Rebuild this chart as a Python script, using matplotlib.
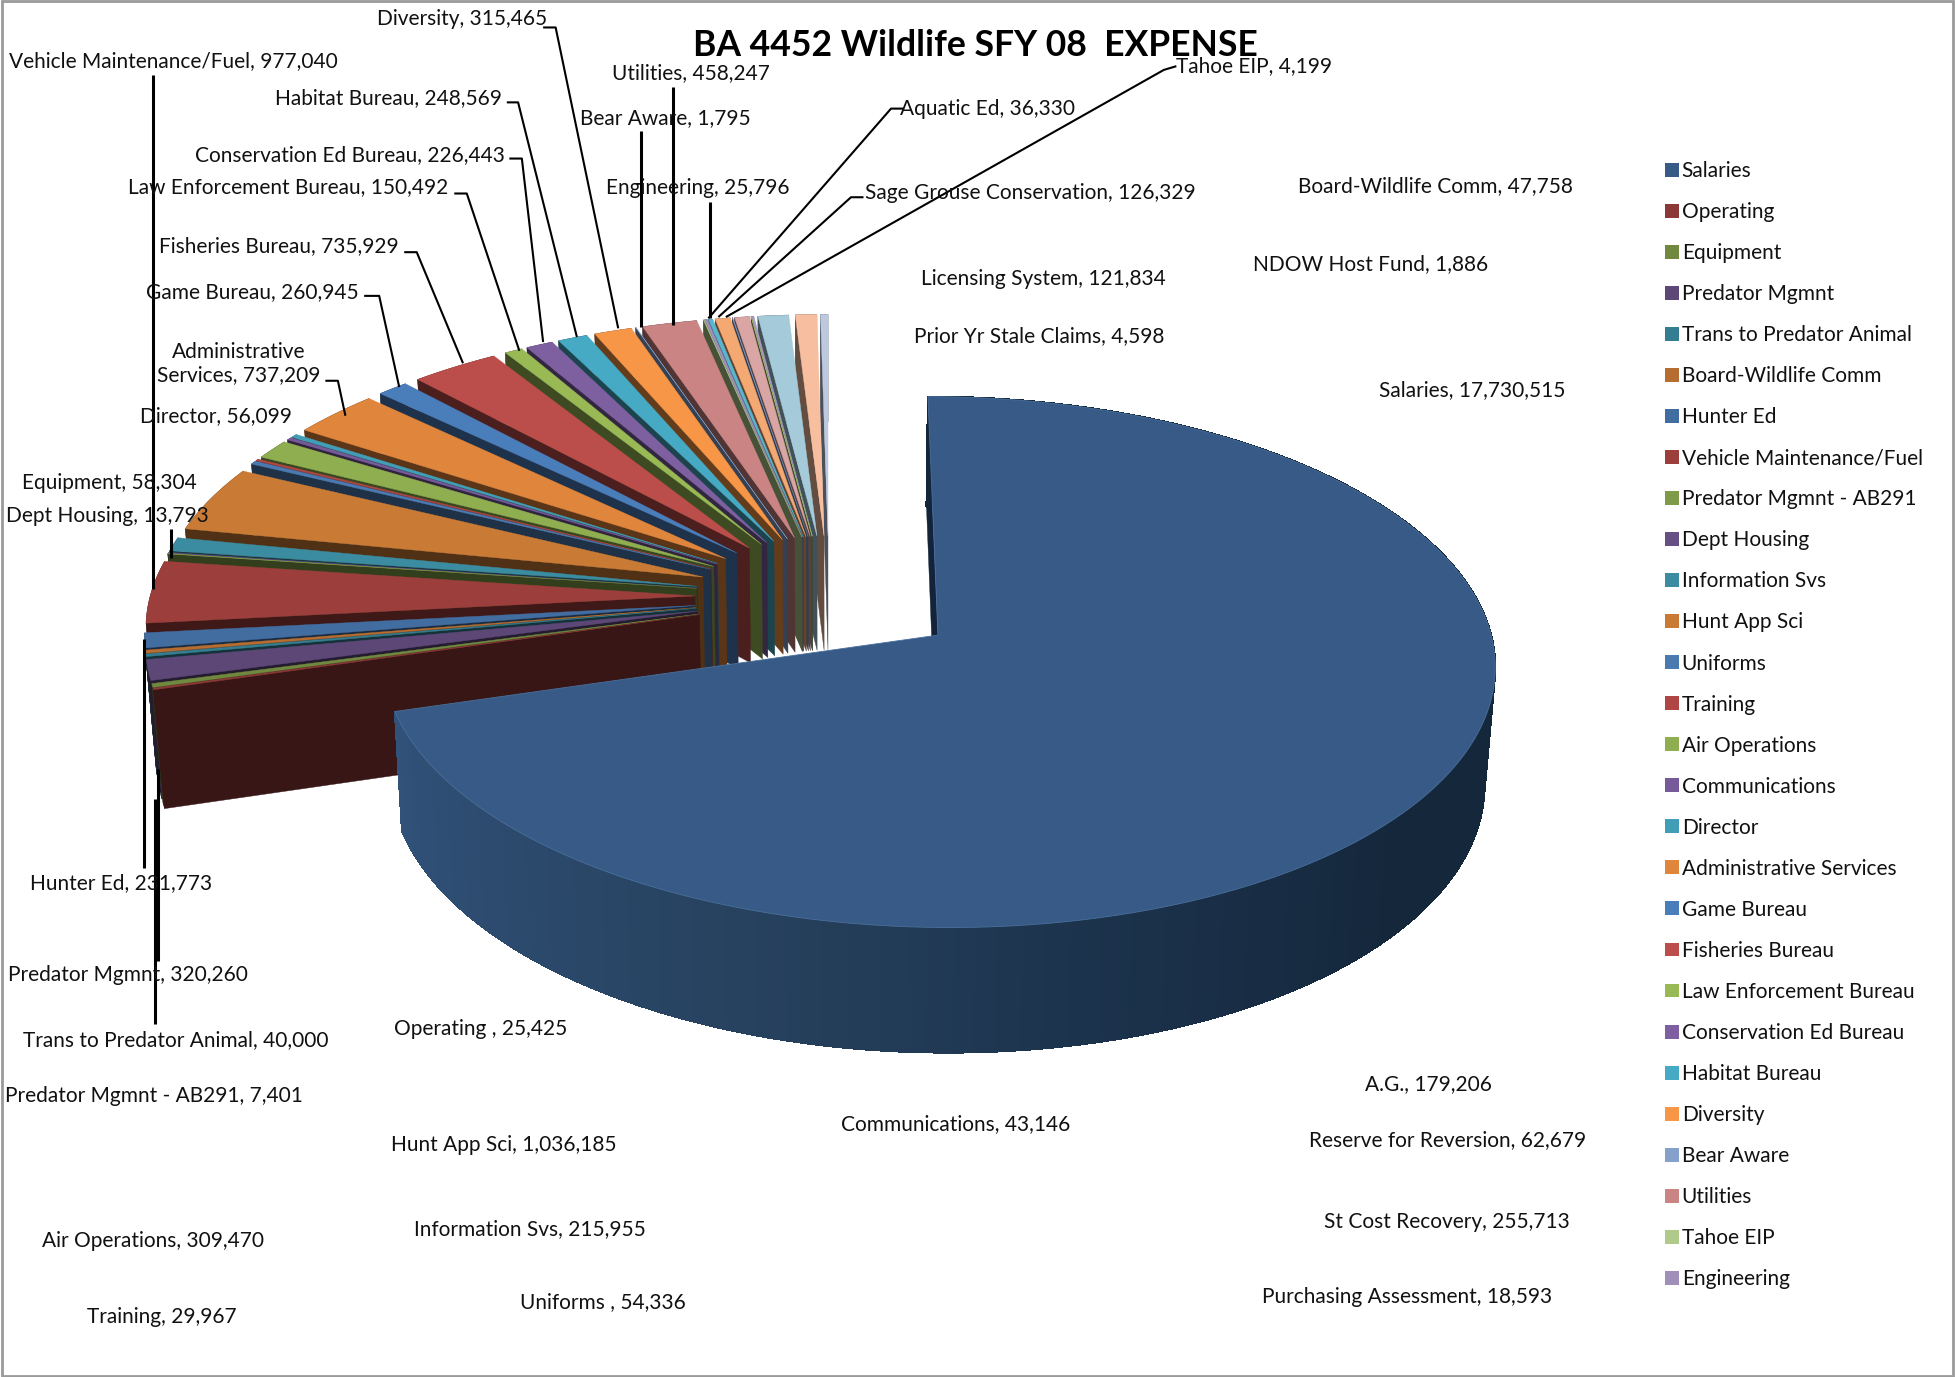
import numpy as np
from matplotlib import pyplot as plt
from matplotlib.patches import Patch, Polygon, Rectangle
from matplotlib.colors import to_rgb

plt.rcParams['font.family'] = ['Lato', 'DejaVu Sans']

names = ['Salaries', 'Operating', 'Equipment', 'Predator Mgmnt', 'Trans to Predator Animal',
         'Board-Wildlife Comm', 'Hunter Ed', 'Vehicle Maintenance/Fuel', 'Predator Mgmnt - AB291',
         'Dept Housing', 'Information Svs', 'Hunt App Sci', 'Uniforms', 'Training', 'Air Operations',
         'Communications', 'Director', 'Administrative Services', 'Game Bureau', 'Fisheries Bureau',
         'Law Enforcement Bureau', 'Conservation Ed Bureau', 'Habitat Bureau', 'Diversity', 'Bear Aware',
         'Utilities', 'Tahoe EIP', 'Engineering', 'Aquatic Ed', 'Sage Grouse Conservation',
         'Prior Yr Stale Claims', 'Licensing System', 'NDOW Host Fund', 'Purchasing Assessment',
         'St Cost Recovery', 'A.G.', 'Reserve for Reversion']
values = [17730515, 25425, 58304, 320260, 40000, 47758, 231773, 977040, 7401, 13793, 215955, 1036185,
          54336, 29967, 309470, 43146, 56099, 737209, 260945, 735929, 150492, 226443, 248569, 315465,
          1795, 458247, 4199, 25796, 36330, 126329, 4598, 121834, 1886, 18593, 255713, 179206, 62679]
colors = ['#375b86', '#8c3836', '#71893f', '#5c4776', '#357d91', '#b66d31', '#426da1', '#9c3f3c',
          '#7f9a48', '#664f83', '#3b8ba1', '#c97b35', '#4a7ab0', '#b04644', '#8fae50', '#775a99',
          '#429eb6', '#e0853c', '#4a7ebb', '#bb4e4b', '#98b954', '#7e60a0', '#46aac4', '#f79646',
          '#84a0cb', '#c98483', '#b0ca8c', '#a08fb8', '#5bb5ce', '#f4a872', '#7a98c4', '#d9a5a5',
          '#a0bb70', '#a89bbe', '#a5cbdb', '#f7bfa0', '#bcc9df']

# label text, same order as names
label_text = [f'{n}, {v:,}' for n, v in zip(names, values)]
label_text[1] = 'Operating , 25,425'
label_text[12] = 'Uniforms , 54,336'
label_text[17] = 'Administrative\nServices, 737,209'

# label centres, read in the 1563 wide view of the picture
kx, ky = 1956 / 1563, 1377 / 1103
label_pos = [(1178, 311), (386, 823), (89, 386), (104, 780), (142, 832), (1149, 148), (98, 706), (140, 48),
             (125, 877), (87, 412), (425, 983), (404, 916), (483, 1042), (131, 1054), (124, 993), (765, 899),
             (174, 332), (192, 290), (203, 233), (224, 196), (232, 149), (281, 123), (312, 77), (371, 14),
             (533, 93), (554, 57), (1004, 52), (559, 149), (791, 86), (825, 153), (832, 268), (835, 222),
             (1097, 210), (1126, 1038), (1158, 978), (1143, 867), (1158, 912)]

leaders = [[(434, 22), (444, 22), (494, 263)], [(405, 82), (414, 82), (461, 270)],
           [(407, 127), (417, 127), (434, 274)], [(363, 155), (373, 155), (415, 281)],
           [(323, 202), (333, 202), (370, 291)], [(291, 237), (303, 237), (319, 310)],
           [(260, 305), (270, 305), (276, 333)], [(512, 105), (512, 262)], [(538, 70), (538, 260)],
           [(567, 162), (567, 255)], [(722, 87), (712, 87), (566, 255)], [(690, 158), (680, 158), (574, 254)],
           [(940, 53), (930, 56), (580, 254)], [(122, 60), (122, 472)], [(137, 424), (137, 447)],
           [(115, 695), (115, 512)], [(126, 770), (126, 616)], [(124, 820), (124, 640)]]

# pie geometry
explode = 0.246
drop = 118
px_x, px_y = 545, 255
cx, cy = 829, 597
pers = 0.1


def project(x, y, bottom=False):
    w = 1 + pers * y + (0.016 if bottom else 0)
    return cx + px_x * x / w, cy - px_y * y / w + (drop / w if bottom else 0)


def wedge_outline(t0, t1, mid):
    n = max(2, int((t1 - t0) / 0.5) + 2)
    t = np.radians(np.linspace(t0, t1, n))
    ox = explode * np.sin(np.radians(mid))
    oy = explode * np.cos(np.radians(mid))
    return ox, oy, ox + np.sin(t), oy + np.cos(t)


def shade(col, f):
    return tuple(c * f for c in to_rgb(col))


fig, ax = plt.subplots(figsize=(19.56, 13.77), dpi=100)
ax.set_position([0, 0, 1, 1])
ax.set_xlim(0, 1956)
ax.set_ylim(1377, 0)
ax.axis('off')

angles = np.cumsum([0] + values) / sum(values) * 360

# back slices first so the nearer ones paint over them
for i in range(len(values) - 1, 0, -1):
    t0, t1 = angles[i], angles[i + 1]
    ox, oy, xs, ys = wedge_outline(t0, t1, (t0 + t1) / 2)
    dark = shade(colors[i], 0.4)
    top = [project(ox, oy)] + [project(a, b) for a, b in zip(xs, ys)]
    rim = [project(a, b) for a, b in zip(xs, ys)] + [project(a, b, True) for a, b in zip(xs[::-1], ys[::-1])]
    start = [project(ox, oy), project(xs[0], ys[0]), project(xs[0], ys[0], True), project(ox, oy, True)]
    ax.add_patch(Polygon(rim, fc=dark, ec=dark, lw=0.3))
    ax.add_patch(Polygon(start, fc=dark, ec=dark, lw=0.3))
    ax.add_patch(Polygon(top, fc=colors[i], ec=colors[i], lw=0.3))

# salaries slice
t0, t1 = angles[0], angles[1]
ox, oy, xs, ys = wedge_outline(t0, t1, (t0 + t1) / 2)
side = [project(ox, oy), project(xs[0], ys[0]), project(xs[0], ys[0], True), project(ox, oy, True)]
ax.add_patch(Polygon(side, fc='#12233a', ec='#12233a', lw=0.3))

stops = [60, 130, 170, 200, 230, 254]
shades = [to_rgb(c) for c in ['#13263a', '#14273b', '#1d344e', '#27425f', '#2c4b6e', '#31527a']]
for j in range(len(xs) - 1):
    if xs[j] < ox and ys[j] > oy:
        continue
    th = np.degrees(np.arctan2(xs[j] - ox, ys[j] - oy)) % 360
    col = [np.interp(th, stops, [s[c] for s in shades]) for c in range(3)]
    quad = [project(xs[j], ys[j]), project(xs[j + 1], ys[j + 1]),
            project(xs[j + 1], ys[j + 1], True), project(xs[j], ys[j], True)]
    ax.add_patch(Polygon(quad, fc=col, ec=col, lw=0.8, antialiased=False))

top = [project(ox, oy)] + [project(a, b) for a, b in zip(xs, ys)]
ax.add_patch(Polygon(top, fc=colors[0], ec='#4a6f9c', lw=0.6))

# leader lines and labels
for pts in leaders:
    pts = np.array(pts) * [kx, ky]
    width = 2.2 if pts[0, 0] == pts[-1, 0] else 1.5
    ax.plot(pts[:, 0], pts[:, 1], color='black', lw=width, solid_capstyle='butt', zorder=3)

for txt, (x, y) in zip(label_text, label_pos):
    ax.text(x * kx - 2, y * ky + 1.5, txt, ha='center', va='center', fontsize=15, color='#111111',
            linespacing=1.25, zorder=4)

ax.text(975, 46, 'BA 4452 Wildlife SFY 08  EXPENSE', ha='center', va='center', fontsize=25.6,
        fontweight='bold', color='black', zorder=4)

handles = [Patch(fc=c, ec='none', label=n) for n, c in zip(names[:28], colors[:28])]
ax.legend(handles=handles, loc='upper left', bbox_to_anchor=(1665, 161), bbox_transform=ax.transData,
          frameon=False, fontsize=15, borderpad=0, borderaxespad=0, handlelength=0.65, handleheight=0.65,
          handletextpad=0.15, labelspacing=1.01, labelcolor='#111111')

ax.add_patch(Rectangle((2, 1), 1951, 1375, fill=False, ec='#9a9a9a', lw=2, clip_on=False))

plt.savefig('out.png', dpi=100)
